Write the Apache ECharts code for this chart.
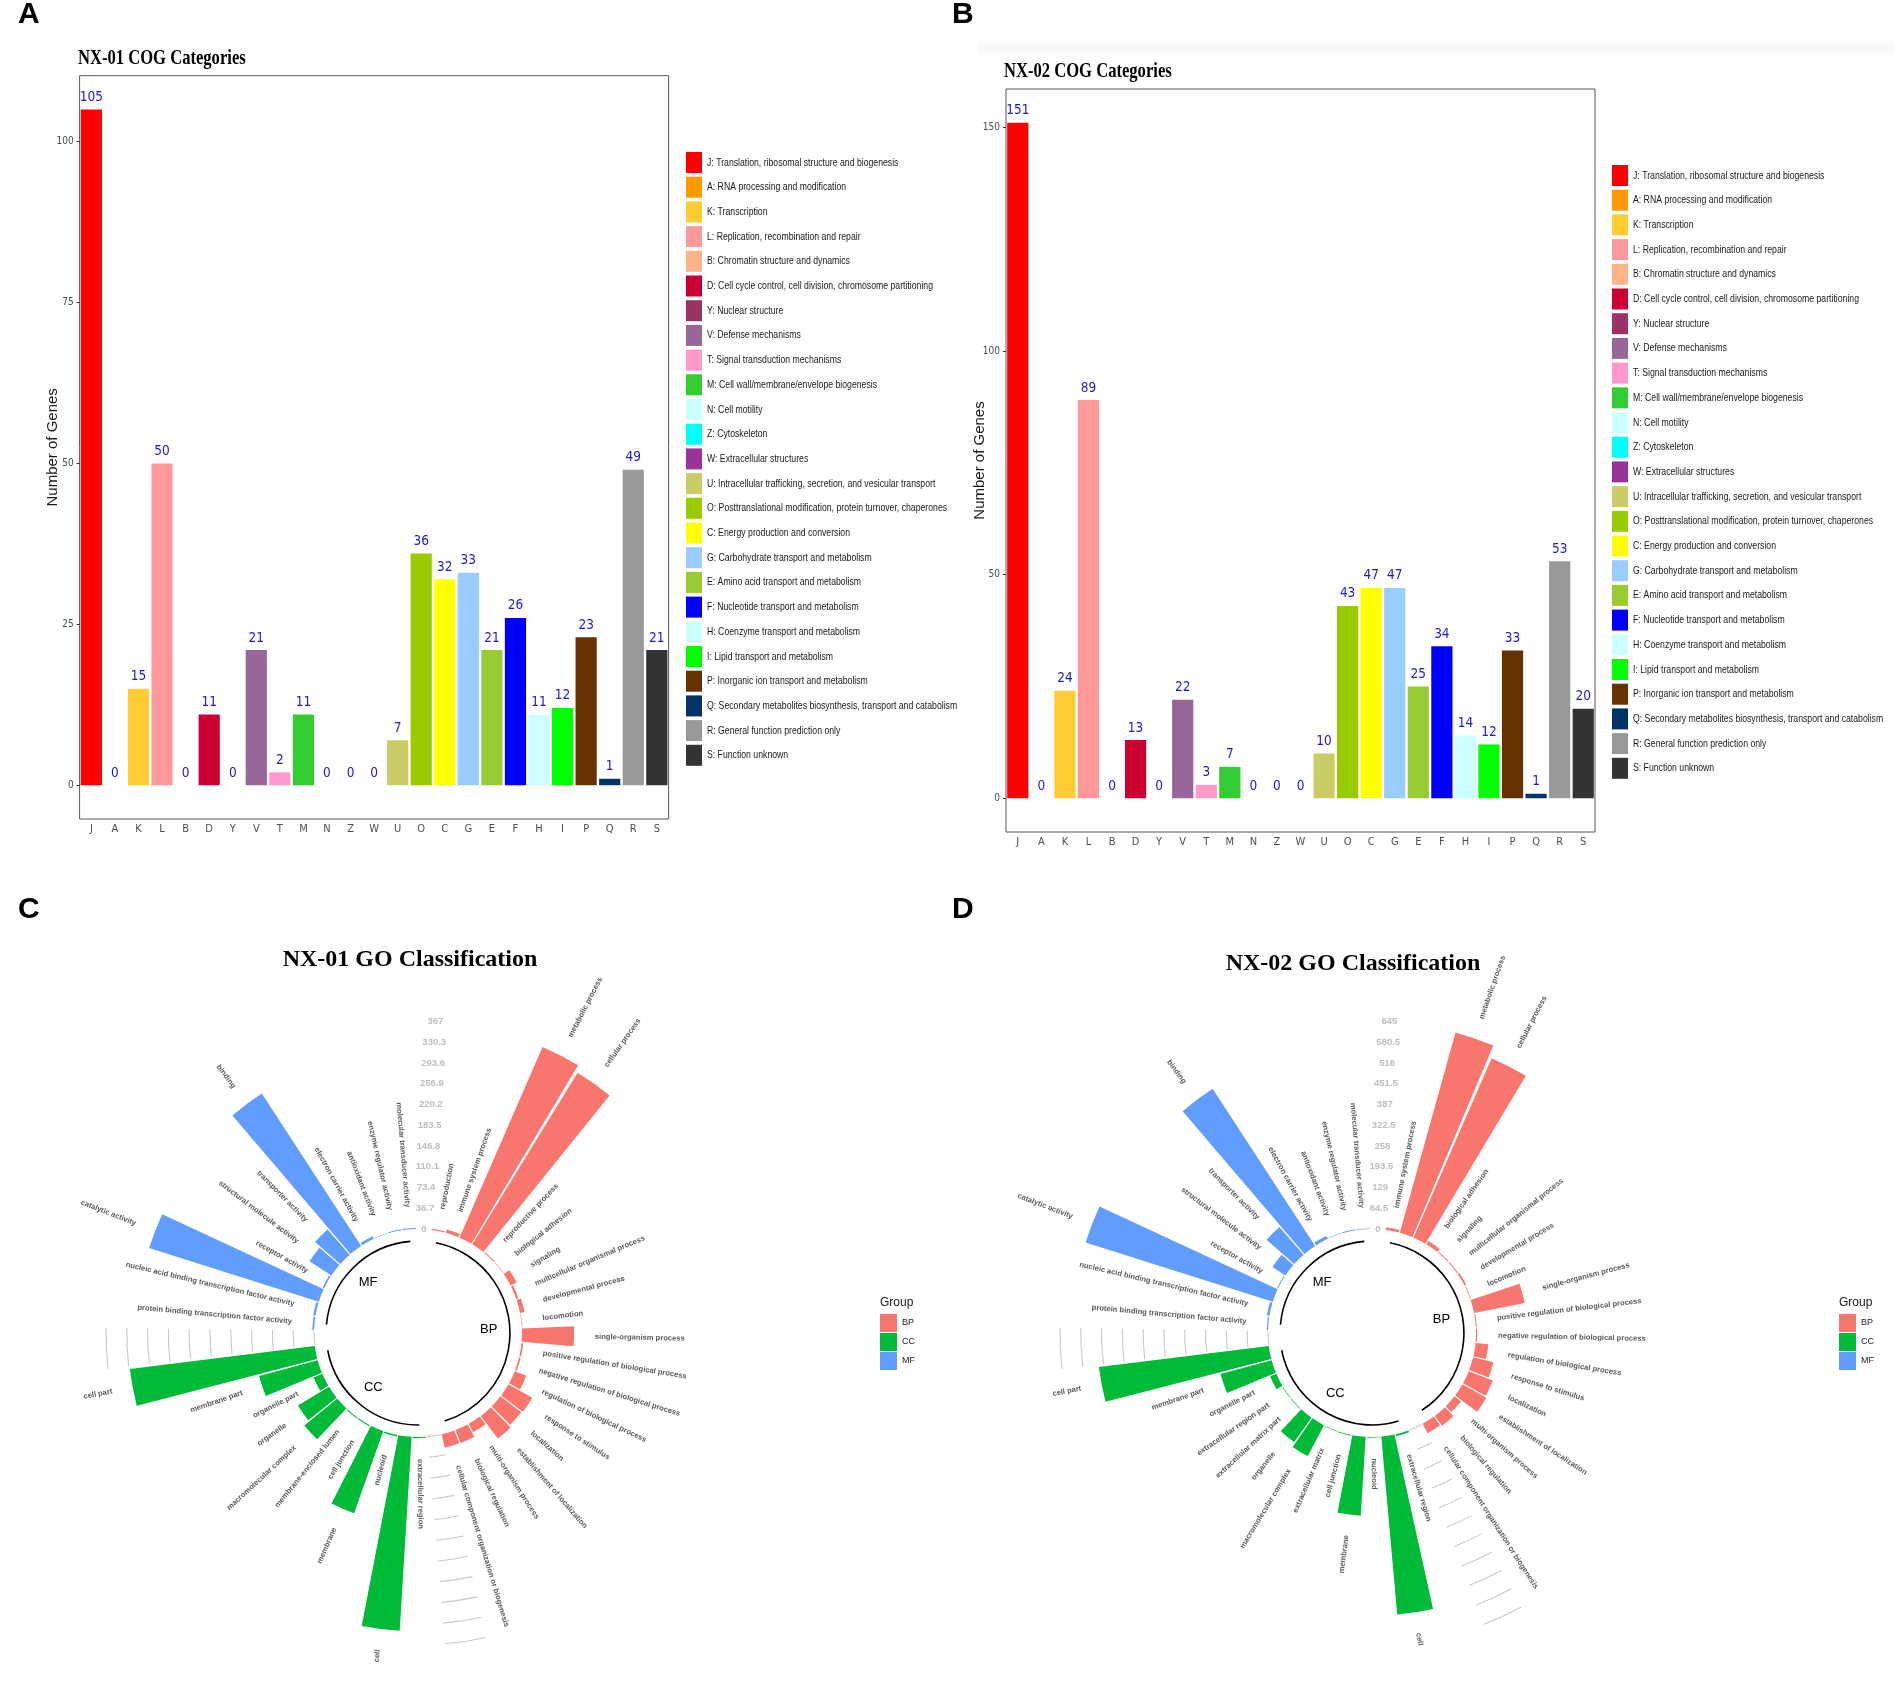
<!DOCTYPE html>
<html>
<head>
<meta charset="utf-8">
<title>COG and GO classification of NX-01 / NX-02</title>
<script src="https://cdn.jsdelivr.net/npm/echarts@6/dist/echarts.min.js"></script>
<style>
html, body { margin: 0; padding: 0; background: #fff; }
#main { width: 1901px; height: 1696px; }
</style>
</head>
<body>
<div id="main"></div>
<script>
// ---- COG data (panels A and B)
var cogLetters = ['J','A','K','L','B','D','Y','V','T','M','N','Z','W','U','O','C','G','E','F','H','I','P','Q','R','S'];
var cogDescriptions = [
    'J: Translation, ribosomal structure and biogenesis',
    'A: RNA processing and modification',
    'K: Transcription',
    'L: Replication, recombination and repair',
    'B: Chromatin structure and dynamics',
    'D: Cell cycle control, cell division, chromosome partitioning',
    'Y: Nuclear structure',
    'V: Defense mechanisms',
    'T: Signal transduction mechanisms',
    'M: Cell wall/membrane/envelope biogenesis',
    'N: Cell motility',
    'Z: Cytoskeleton',
    'W: Extracellular structures',
    'U: Intracellular trafficking, secretion, and vesicular transport',
    'O: Posttranslational modification, protein turnover, chaperones',
    'C: Energy production and conversion',
    'G: Carbohydrate transport and metabolism',
    'E: Amino acid transport and metabolism',
    'F: Nucleotide transport and metabolism',
    'H: Coenzyme transport and metabolism',
    'I: Lipid transport and metabolism',
    'P: Inorganic ion transport and metabolism',
    'Q: Secondary metabolites biosynthesis, transport and catabolism',
    'R: General function prediction only',
    'S: Function unknown'
];
var nx01Cog = [105,0,15,50,0,11,0,21,2,11,0,0,0,7,36,32,33,21,26,11,12,23,1,49,21];
var nx02Cog = [151,0,24,89,0,13,0,22,3,7,0,0,0,10,43,47,47,25,34,14,12,33,1,53,20];
var nx01CogTicks = [0,25,50,75,100];
var nx02CogTicks = [0,50,100,150];

// ---- GO data (panels C and D)
var nx01BpTerms = ['reproduction','immune system process','metabolic process','cellular process','reproductive process',
    'biological adhesion','signaling','multicellular organismal process','developmental process','locomotion',
    'single-organism process','positive regulation of biological process','negative regulation of biological process',
    'regulation of biological process','response to stimulus','localization','establishment of localization',
    'multi-organism process','biological regulation','cellular component organization or biogenesis'];
var nx01BpCounts = [2,6,367,355,2,1,12,4,8,1,92,3,3,22,48,46,50,17,25,24];
var nx01CcTerms = ['extracellular region','cell','nucleoid','membrane','cell junction','membrane-enclosed lumen',
    'macromolecular complex','organelle','organelle part','membrane part','cell part'];
var nx01CcCounts = [2,343,3,154,2,2,75,64,17,107,329];
var nx01MfTerms = ['protein binding transcription factor activity','nucleic acid binding transcription factor activity',
    'catalytic activity','receptor activity','structural molecule activity','transporter activity','binding',
    'electron carrier activity','antioxidant activity','enzyme regulator activity','molecular transducer activity'];
var nx01MfCounts = [3,4,314,3,46,59,321,5,1,2,2];
var nx01GoTicks = ['0','36.7','73.4','110.1','146.8','183.5','220.2','256.9','293.6','330.3','367'];

var nx02BpTerms = ['immune system process','metabolic process','cellular process','biological adhesion','signaling',
    'multicellular organismal process','developmental process','locomotion','single-organism process',
    'positive regulation of biological process','negative regulation of biological process',
    'regulation of biological process','response to stimulus','localization','establishment of localization',
    'multi-organism process','biological regulation','cellular component organization or biogenesis'];
var nx02BpCounts = [8,645,607,12,3,3,6,2,160,3,4,40,65,80,85,25,38,33];
var nx02CcTerms = ['extracellular region','cell','nucleoid','membrane','cell junction','extracellular matrix',
    'macromolecular complex','organelle','extracellular matrix part','extracellular region part','organelle part',
    'membrane part','cell part'];
var nx02CcCounts = [6,554,2,245,3,2,108,93,2,2,21,164,531];
var nx02MfTerms = nx01MfTerms;
var nx02MfCounts = [4,8,609,3,48,114,582,10,2,3,2];
var nx02GoTicks = ['0','64.5','129','193.5','258','322.5','387','451.5','516','580.5','645'];

// ---- styling
var cogColors = ['#ff0000','#ff9900','#ffcc33','#ff9999','#ffb38a','#cc0033','#993366','#996699','#ff99cc','#33cc33',
    '#ccffff','#00ffff','#993399','#cccc66','#99cc00','#ffff00','#99ccff','#99cc33','#0000ff','#ccffff',
    '#00ff00','#663300','#003366','#999999','#333333'];
var goColors = {BP: '#F8766D', CC: '#00BA38', MF: '#619CFF'};
var narrow = "'Liberation Sans Narrow','Arial Narrow','DejaVu Sans Condensed',sans-serif";
var sans = "'Liberation Sans',Arial,sans-serif";
var serif = "'Liberation Serif','Times New Roman',serif";
var squeeze = 0.79;   // the COG panels of the source figure are horizontally compressed

var option = {
    animation: false,
    backgroundColor: '#fff',
    grid: [], xAxis: [], yAxis: [],
    polar: [], angleAxis: [], radiusAxis: [],
    legend: [], series: [], graphic: []
};

function addCog(k, values, ticks, box, legendPos) {
    var top = Math.max.apply(null, values);
    option.grid.push({left: box[0], top: box[1], width: box[2], height: box[3], show: true,
        borderColor: '#555', borderWidth: 1});
    option.xAxis.push({
        type: 'category', gridIndex: k, data: cogLetters,
        axisLine: {show: false},
        axisTick: {alignWithLabel: true, length: 3, lineStyle: {color: '#333'}},
        axisLabel: {color: '#4d4d4d', fontFamily: narrow, fontSize: 11, margin: 5}
    });
    option.yAxis.push({
        type: 'value', gridIndex: k, min: -0.05 * top, max: 1.05 * top,
        axisLine: {show: false}, splitLine: {show: false},
        axisTick: {show: true, length: 3, lineStyle: {color: '#333'}, customValues: ticks},
        axisLabel: {color: '#4d4d4d', fontFamily: narrow, fontSize: 10, margin: 6, customValues: ticks},
        name: 'Number of Genes', nameLocation: 'middle', nameGap: 19, nameMoveOverlap: false,
        nameTextStyle: {fontFamily: sans, fontSize: 15, color: '#1a1a1a'}
    });
    for (var i = 0; i < cogLetters.length; i++) {
        option.series.push({
            type: 'bar', name: cogDescriptions[i], xAxisIndex: k, yAxisIndex: k,
            barGap: '-100%', barCategoryGap: '10%',
            itemStyle: {color: cogColors[i]},
            label: {show: true, position: 'top', distance: 5, color: '#1a1ad6', fontFamily: narrow, fontSize: 13.5},
            data: values.map(function (v, j) { return j === i ? v : '-'; })
        });
    }
    // legend drawn as a compressed key list, one row per COG class
    var rows = cogDescriptions.map(function (txt, i) {
        return {
            type: 'group', x: 0, y: i * 24.7,
            children: [
                {type: 'rect', shape: {x: 0, y: 0, width: 16, height: 21}, style: {fill: cogColors[i]}},
                {type: 'text', x: 21, y: 10.5, scaleX: squeeze,
                    style: {text: txt, fontFamily: sans, fontSize: 11, fill: '#1a1a1a', verticalAlign: 'middle'}}
            ]
        };
    });
    option.graphic.push({type: 'group', x: legendPos[0], y: legendPos[1], silent: true, children: rows});
}

function addGo(p, groups, ticks, center, legendLeft) {
    var top = parseFloat(ticks[ticks.length - 1]);
    var slots = ['gap0'], owner = [''], counts = [null];
    var spans = [], gaps = [];
    groups.forEach(function (g, gi) {
        if (gi > 0) {
            gaps.push(slots.length);
            slots.push('gap' + gi); owner.push(''); counts.push(null);
        }
        var first = slots.length;
        g.terms.forEach(function (t, i) {
            slots.push(t); owner.push(g.key); counts.push(g.counts[i]);
        });
        spans.push([g.key, first, slots.length - 1]);
    });

    option.polar.push({center: center, radius: [0, 312]});
    option.angleAxis.push({
        polarIndex: p, type: 'category', data: slots, startAngle: 90.8, clockwise: true,
        axisLine: {show: false}, axisTick: {show: false}, axisLabel: {show: false},
        splitLine: {show: false}, splitArea: {show: false}
    });
    option.radiusAxis.push({
        polarIndex: p, type: 'value', min: -top / 2, max: top,
        axisLine: {show: false}, axisTick: {show: false}, axisLabel: {show: false}, splitLine: {show: false}
    });

    groups.forEach(function (g) {
        option.series.push({
            type: 'bar', coordinateSystem: 'polar', polarIndex: p, name: g.key,
            barGap: '-100%', barCategoryGap: '8%',
            itemStyle: {color: goColors[g.key]},
            data: slots.map(function (s, i) { return owner[i] === g.key ? counts[i] : '-'; })
        });
    });

    // grey scale arcs in the two side gaps
    var arcData = [];
    gaps.forEach(function (gi) {
        ticks.forEach(function (t) { arcData.push([parseFloat(t), gi]); });
    });
    option.series.push({
        type: 'custom', coordinateSystem: 'polar', polarIndex: p, silent: true, data: arcData,
        renderItem: function (params, api) {
            var a = api.coord([api.value(0), api.value(1)]);
            var b = api.coord([api.value(0), api.value(1) + 1]);
            var half = Math.abs(b[3] - a[3]) / 2 * 0.95;
            return {
                type: 'arc',
                shape: {cx: params.coordSys.cx, cy: params.coordSys.cy, r: a[2],
                    startAngle: -a[3] - half, endAngle: -a[3] + half, clockwise: true},
                style: {stroke: '#c8c8c8', lineWidth: 1.1, fill: null}
            };
        }
    });

    // scale labels in the top gap
    option.series.push({
        type: 'custom', coordinateSystem: 'polar', polarIndex: p, silent: true,
        data: ticks.map(function (t) { return [parseFloat(t), 0]; }),
        renderItem: function (params, api) {
            var c = api.coord([api.value(0), api.value(1)]);
            return {type: 'text', x: c[0], y: c[1], style: {
                text: ticks[params.dataIndex], align: 'center', verticalAlign: 'middle',
                fill: '#bdbdbd', fontFamily: sans, fontWeight: 'bold', fontSize: 9.5}};
        }
    });

    // group base arcs
    var ringValue = -0.058 * top;
    option.series.push({
        type: 'custom', coordinateSystem: 'polar', polarIndex: p, silent: true,
        data: spans.map(function (s) { return [ringValue, s[1], s[2]]; }),
        renderItem: function (params, api) {
            var a = api.coord([api.value(0), api.value(1)]);
            var b = api.coord([api.value(0), api.value(2)]);
            var s = -a[3], e = -b[3];
            while (e < s) e += Math.PI * 2;
            return {
                type: 'arc',
                shape: {cx: params.coordSys.cx, cy: params.coordSys.cy, r: a[2], startAngle: s, endAngle: e, clockwise: true},
                style: {stroke: '#000', lineWidth: 1.6, fill: null}
            };
        }
    });

    // group names inside the ring
    option.series.push({
        type: 'custom', coordinateSystem: 'polar', polarIndex: p, silent: true,
        data: spans.map(function (s) { return [-0.16 * top, s[1], s[2]]; }),
        renderItem: function (params, api) {
            var a = api.coord([api.value(0), api.value(1)]);
            var b = api.coord([api.value(0), api.value(2)]);
            var mid = (a[3] + b[3]) / 2;
            var cs = params.coordSys;
            return {
                type: 'text', x: cs.cx + a[2] * Math.cos(mid), y: cs.cy - a[2] * Math.sin(mid),
                style: {text: spans[params.dataIndex][0], align: 'center', verticalAlign: 'middle',
                    fill: '#000', fontFamily: sans, fontSize: 13}
            };
        }
    });

    // term labels, radial
    var labelData = [], labelText = [];
    slots.forEach(function (s, i) {
        if (owner[i]) { labelData.push([counts[i] + 0.1 * top, i]); labelText.push(s); }
    });
    option.series.push({
        type: 'custom', coordinateSystem: 'polar', polarIndex: p, silent: true, data: labelData,
        renderItem: function (params, api) {
            var c = api.coord([api.value(0), api.value(1)]);
            var a = c[3];
            var deg = ((90 - a * 180 / Math.PI) % 360 + 360) % 360;
            var right = deg > 0 && deg < 180;
            return {
                type: 'text', x: c[0], y: c[1], rotation: right ? a : a + Math.PI,
                style: {text: labelText[params.dataIndex], align: right ? 'left' : 'right', verticalAlign: 'middle',
                    fill: '#5a5a5a', fontFamily: sans, fontWeight: 'bold', fontSize: 7.6}
            };
        }
    });

    option.legend.push({
        orient: 'vertical', left: legendLeft, top: 1314, padding: 0, itemWidth: 17, itemHeight: 18, itemGap: 1,
        icon: 'rect', selectedMode: false, data: ['BP', 'CC', 'MF'],
        textStyle: {fontFamily: sans, fontSize: 9, color: '#1a1a1a'}
    });
    option.graphic.push({type: 'text', x: legendLeft, y: 1303, style: {text: 'Group', fontFamily: sans,
        fontSize: 12, fill: '#1a1a1a', verticalAlign: 'middle'}});
}

addCog(0, nx01Cog, nx01CogTicks, [79.6, 75.7, 589, 743.3], [686, 152]);
addCog(1, nx02Cog, nx02CogTicks, [1006, 89, 589, 743], [1612, 165]);

addGo(0, [
    {key: 'BP', terms: nx01BpTerms, counts: nx01BpCounts},
    {key: 'CC', terms: nx01CcTerms, counts: nx01CcCounts},
    {key: 'MF', terms: nx01MfTerms, counts: nx01MfCounts}
], nx01GoTicks, [418, 1333], 880);
addGo(1, [
    {key: 'BP', terms: nx02BpTerms, counts: nx02BpCounts},
    {key: 'CC', terms: nx02CcTerms, counts: nx02CcCounts},
    {key: 'MF', terms: nx02MfTerms, counts: nx02MfCounts}
], nx02GoTicks, [1372, 1333], 1839);

// panel letters and titles
option.graphic.push(
    {type: 'rect', shape: {x: 977, y: 41, width: 918, height: 14}, style: {fill: '#fdf9f7'}, z: -1},
    {type: 'text', x: 18, y: 15, style: {text: 'A', fontFamily: sans, fontWeight: 'bold', fontSize: 30, fill: '#000', verticalAlign: 'middle'}},
    {type: 'text', x: 952, y: 15, style: {text: 'B', fontFamily: sans, fontWeight: 'bold', fontSize: 30, fill: '#000', verticalAlign: 'middle'}},
    {type: 'text', x: 18, y: 910, style: {text: 'C', fontFamily: sans, fontWeight: 'bold', fontSize: 30, fill: '#000', verticalAlign: 'middle'}},
    {type: 'text', x: 952, y: 910, style: {text: 'D', fontFamily: sans, fontWeight: 'bold', fontSize: 30, fill: '#000', verticalAlign: 'middle'}},
    {type: 'text', x: 78, y: 59, scaleX: squeeze, style: {text: 'NX-01 COG Categories', fontFamily: serif, fontWeight: 'bold', fontSize: 21, fill: '#000', verticalAlign: 'middle'}},
    {type: 'text', x: 1004, y: 71.5, scaleX: squeeze, style: {text: 'NX-02 COG Categories', fontFamily: serif, fontWeight: 'bold', fontSize: 21, fill: '#000', verticalAlign: 'middle'}},
    {type: 'text', x: 410, y: 960, style: {text: 'NX-01 GO Classification', fontFamily: serif, fontWeight: 'bold', fontSize: 24, fill: '#000', align: 'center', verticalAlign: 'middle'}},
    {type: 'text', x: 1353, y: 964, style: {text: 'NX-02 GO Classification', fontFamily: serif, fontWeight: 'bold', fontSize: 24, fill: '#000', align: 'center', verticalAlign: 'middle'}}
);

var chart = echarts.init(document.getElementById('main'), null, {renderer: 'canvas'});
chart.setOption(option);
</script>
</body>
</html>
